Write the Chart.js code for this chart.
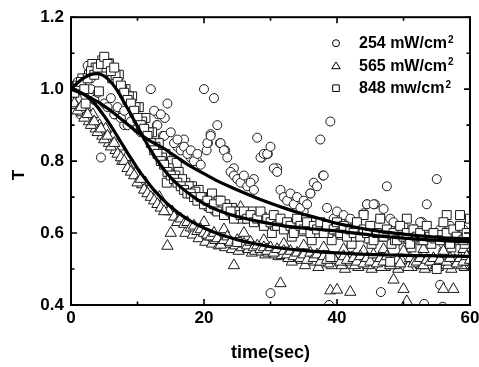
<!DOCTYPE html>
<html><head><meta charset="utf-8">
<script src="https://cdn.jsdelivr.net/npm/chart.js@4/dist/chart.umd.min.js"></script>
<style>html,body{margin:0;padding:0;overflow:hidden;background:#fff;width:479px;height:367px}</style>
</head><body>
<canvas id="c" width="490" height="367" style="display:block"></canvas>
<script>
// sampling times (s)
const times = [0,0.5,1,1.5,2,2.5,3,3.5,4,4.5,5,5.5,6,6.5,7,7.5,8,8.5,9,9.5,10,10.5,11,11.5,12,12.5,13,13.5,14,14.5,15,15.5,16,16.5,17,17.5,18,18.5,19,19.5,20,20.5,21,21.5,22,22.5,23,23.5,24,24.5,25,25.5,26,26.5,27,27.5,28,28.5,29,29.5,30,30.5,31,31.5,32,32.5,33,33.5,34,34.5,35,35.5,36,36.5,37,37.5,38,38.5,39,39.5,40,40.5,41,41.5,42,42.5,43,43.5,44,44.5,45,45.5,46,46.5,47,47.5,48,48.5,49,49.5,50,50.5,51,51.5,52,52.5,53,53.5,54,54.5,55,55.5,56,56.5,57,57.5,58,58.5,59,59.5,60];

// 254 mW/cm2 (circles)
const t254 = [1.0,0.99,1.02,0.94,0.98,1.065,1.0,0.97,0.99,0.81,0.96,0.95,0.975,0.93,0.95,0.92,0.94,0.9,0.91,0.93,0.89,0.9,0.92,0.87,1.0,0.94,0.9,0.93,0.87,0.96,0.88,0.85,0.86,0.83,0.84,0.82,0.83,0.8,0.82,0.79,1.0,0.85,0.87,0.975,0.9,0.85,0.83,0.81,0.77,0.76,0.75,0.74,0.76,0.73,0.74,0.72,0.865,0.81,0.82,0.82,0.84,0.78,0.77,0.72,0.7,0.69,0.71,0.68,0.7,0.67,0.69,0.68,0.71,0.74,0.73,0.86,0.76,0.67,0.91,0.64,0.66,0.63,0.65,0.62,0.64,0.61,0.63,0.6,0.655,0.68,0.62,0.68,0.6,0.64,0.667,0.73,0.61,0.63,0.6,0.59,0.62,0.6,0.58,0.61,0.6,0.63,0.59,0.68,0.6,0.58,0.75,0.61,0.57,0.6,0.62,0.59,0.58,0.6,0.61,0.59,0.6];
const x254extra = [30,38.8,46.6,53.1,55.5,55.9,21,20.6,22.4,23.2,20.4,29.6,28.7,31,37.9,36,14.1,13.1,12.9,13.8,0.9,1.4,6.6,16,18,19,44.5,45.7,17,26,33,42,50,58,10.5,8,52.8,42,50,56,60,24.5,27.5,35,39.5,48,3];
const y254extra = [0.433,0.40,0.436,0.403,0.456,0.395,0.875,0.85,0.85,0.83,0.83,0.82,0.81,0.78,0.76,0.71,0.92,0.93,0.9,0.87,1.017,0.93,0.93,0.84,0.81,0.8,0.68,0.68,0.86,0.74,0.69,0.63,0.61,0.6,0.88,0.9,0.63,0.56,0.56,0.55,0.56,0.78,0.75,0.66,0.62,0.64,1.03];

// 565 mW/cm2 (triangles)
const t565 = [0.97,0.96,0.94,0.95,0.92,0.93,0.9,0.91,0.88,0.89,0.86,0.87,0.84,0.85,0.82,0.81,0.8,0.78,0.77,0.76,0.74,0.75,0.72,0.71,0.7,0.69,0.68,0.67,0.66,0.564,0.6,0.645,0.63,0.64,0.625,0.63,0.615,0.62,0.605,0.61,0.6,0.595,0.59,0.6,0.585,0.567,0.58,0.59,0.575,0.51,0.58,0.672,0.57,0.565,0.575,0.56,0.565,0.555,0.56,0.55,0.56,0.545,0.555,0.46,0.55,0.54,0.55,0.535,0.545,0.53,0.54,0.525,0.545,0.53,0.54,0.52,0.535,0.525,0.44,0.53,0.442,0.52,0.535,0.525,0.436,0.53,0.52,0.535,0.515,0.53,0.52,0.54,0.515,0.53,0.52,0.535,0.51,0.47,0.525,0.515,0.444,0.41,0.53,0.515,0.52,0.53,0.51,0.525,0.52,0.53,0.51,0.525,0.444,0.52,0.53,0.444,0.515,0.53,0.52,0.535,0.525];
const x565extra = [0.2,1.2,2.2,3.3,4.3,5.2,6.3,7.2,8.3,9.2,10.3,11.2,13.3,15.2,17.2,18.3,19.2,20.2,21.2,22.2,23.2,24.2,25.2,27.2,29.2,31.2,33.2,35.2,37.2,39.2,41.2,43.2,45.2,47.2,49.2,51.2,53.2,55.2,57.2,59.2,20,23,26,29,32,35,38,41,44,47,50,53,56,59,16,
  0.7,1.7,2.7,3.7,4.7,5.7,6.7,7.7,8.7,9.7,10.7,11.7,12.7,13.7,14.7,
  20.7,21.7,22.7,23.7,24.7,25.7,26.7,27.7,28.7,29.7,30.7,31.7,32.7,33.7,34.7,35.7,36.7,37.7,38.7,39.7,40.7,41.7,42.7,43.7,44.7,45.7,46.7,47.7,48.7,49.7,50.7,51.7,52.7,53.7,54.7,55.7,56.7,57.7,58.7,59.7];
const y565extra = [0.99,0.97,0.95,0.93,0.9,0.89,0.87,0.84,0.81,0.79,0.76,0.74,0.7,0.66,0.6,0.595,0.585,0.575,0.57,0.565,0.56,0.555,0.55,0.545,0.54,0.535,0.52,0.51,0.505,0.51,0.5,0.505,0.5,0.505,0.5,0.505,0.5,0.505,0.5,0.505,0.63,0.61,0.6,0.58,0.57,0.565,0.56,0.555,0.55,0.555,0.55,0.555,0.55,0.555,0.63,
  0.955,0.935,0.91,0.89,0.87,0.85,0.83,0.8,0.785,0.765,0.735,0.72,0.7,0.68,0.66,
  0.59,0.58,0.575,0.57,0.565,0.56,0.555,0.55,0.548,0.545,0.54,0.538,0.53,0.54,0.525,0.535,0.52,0.53,0.515,0.525,0.51,0.52,0.51,0.525,0.51,0.52,0.505,0.52,0.51,0.525,0.505,0.52,0.51,0.52,0.505,0.52,0.51,0.525,0.51,0.52];

// 848 mw/cm2 (squares)
const t848 = [1.0,0.99,1.01,1.02,1.0,1.03,1.05,1.04,1.06,1.07,1.09,1.07,1.05,1.06,1.02,1.01,0.99,0.97,0.96,0.94,0.92,0.9,0.89,0.87,0.85,0.83,0.82,0.8,0.79,0.77,0.76,0.75,0.74,0.73,0.72,0.71,0.71,0.7,0.69,0.7,0.68,0.69,0.67,0.68,0.66,0.69,0.65,0.67,0.66,0.64,0.575,0.65,0.66,0.64,0.65,0.63,0.64,0.66,0.62,0.64,0.63,0.65,0.62,0.64,0.61,0.63,0.62,0.6,0.64,0.62,0.61,0.63,0.6,0.62,0.61,0.63,0.6,0.62,0.533,0.61,0.63,0.6,0.62,0.59,0.61,0.6,0.63,0.59,0.61,0.6,0.62,0.58,0.6,0.64,0.59,0.61,0.52,0.6,0.58,0.62,0.59,0.6,0.57,0.61,0.59,0.6,0.58,0.62,0.59,0.6,0.5,0.58,0.63,0.6,0.57,0.61,0.59,0.62,0.58,0.6,0.64];
const x848extra = [3.2,4.2,2.2,5.7,6.2,7.2,8.2,9.2,10.2,11.2,12.2,13.2,14.2,15.2,16.2,17.2,18.2,19.2,20.2,21.2,22.2,23.2,24.2,27.2,30.2,33.2,36.2,39.2,42.2,45.2,48.2,51.2,54.2,57.2,59.2,44,50.5,56.5,58.5,14.4,15.9,
  0.7,1.7,2.7,3.7,4.7,5.2,6.7,7.7,8.7,9.7,10.7,11.7,12.7,13.7,14.7,15.7,16.7,17.7,18.7,19.7,
  20.7,21.7,22.7,23.7,24.7,25.7,26.7,27.7,28.7,29.7,30.7,31.7,32.7,33.7,34.7,35.7,36.7,37.7,38.7,39.7,40.7,41.7,42.7,43.7,44.7,45.7,46.7,47.7,48.7,49.7,50.7,51.7,52.7,53.7,54.7,55.7,56.7,57.7,58.7,59.7];
const y848extra = [1.07,0.994,0.96,1.072,1.03,1.04,1.0,0.98,0.95,0.92,0.88,0.85,0.82,0.8,0.77,0.74,0.73,0.72,0.7,0.71,0.69,0.68,0.67,0.66,0.6,0.59,0.58,0.58,0.57,0.57,0.57,0.56,0.57,0.56,0.57,0.65,0.64,0.65,0.65,0.74,0.795,
  1.0,1.03,1.04,1.06,1.08,1.06,1.04,1.0,0.98,0.95,0.91,0.88,0.84,0.81,0.78,0.76,0.75,0.73,0.715,0.7,
  0.675,0.665,0.67,0.655,0.66,0.64,0.65,0.635,0.645,0.63,0.62,0.63,0.615,0.625,0.605,0.62,0.6,0.615,0.6,0.61,0.595,0.61,0.59,0.6,0.585,0.6,0.59,0.6,0.58,0.6,0.585,0.595,0.58,0.6,0.585,0.595,0.58,0.6,0.585,0.59];

// fitted curves
const fitX = [0,1,2,3,4,5,6,7,8,9,10,11,12,13,14,15,16,17,18,19,20,22,24,26,28,30,32,34,36,38,40,42,44,46,48,50,52,54,56,58,60];
const fit254 = [1.0,0.993,0.985,0.975,0.965,0.953,0.94,0.925,0.91,0.895,0.88,0.867,0.855,0.845,0.835,0.822,0.81,0.797,0.785,0.775,0.765,0.745,0.728,0.712,0.697,0.683,0.67,0.658,0.647,0.637,0.627,0.619,0.612,0.606,0.601,0.597,0.593,0.59,0.587,0.585,0.583];
const fit565 = [1.0,0.995,0.985,0.97,0.95,0.925,0.898,0.868,0.838,0.808,0.78,0.754,0.73,0.709,0.69,0.673,0.658,0.645,0.633,0.623,0.614,0.599,0.587,0.577,0.569,0.562,0.557,0.553,0.55,0.547,0.545,0.543,0.541,0.54,0.539,0.538,0.537,0.537,0.536,0.536,0.535];
const fit848 = [1.0,1.018,1.032,1.041,1.043,1.036,1.02,0.995,0.963,0.93,0.896,0.862,0.83,0.801,0.776,0.754,0.736,0.72,0.706,0.693,0.682,0.664,0.651,0.641,0.633,0.626,0.62,0.616,0.612,0.609,0.606,0.601,0.597,0.592,0.589,0.586,0.583,0.581,0.579,0.577,0.576];

// axes
const xMajor = [0,20,40,60];
const xMinor = [10,30,50];
const yMajor = [0.4,0.6,0.8,1.0,1.2];
const yMinor = [0.5,0.7,0.9,1.1];
const seriesLabels = ['254 mW/cm','565 mW/cm','848 mw/cm'];
const seriesStyles = ['circle','triangle','rect'];
const xTitle = 'time(sec)';
const yTitle = 'T';

const FONT = "'Liberation Sans', Arial, Helvetica, sans-serif";

function pts(xs, ys){ return xs.map((x,i)=>({x:x, y:ys[i]})); }
function scatterDs(label, data, style, r, order){
  return {type:'scatter', label, data, pointStyle:style, pointRadius:r, pointHoverRadius:r,
    pointBackgroundColor:'#fff', pointBorderColor:'#1a1a1a', pointBorderWidth:1, showLine:false, order};
}
function fitDs(label, ys){
  return {type:'line', label, data: pts(fitX, ys), borderColor:'#000', borderWidth:3.2,
    pointRadius:0, fill:false, cubicInterpolationMode:'monotone', order:0};
}

const frameAndLegend = {
  id:'frameAndLegend',
  afterDraw(chart){
    const ctx = chart.ctx, xs = chart.scales.x, ys = chart.scales.y;
    const L = xs.getPixelForValue(0), R = xs.getPixelForValue(60);
    const B = ys.getPixelForValue(0.4), T = ys.getPixelForValue(1.2);
    ctx.save();
    ctx.strokeStyle = '#000';
    ctx.lineWidth = 2;
    ctx.strokeRect(L, T, R-L, B-T);
    ctx.lineWidth = 1.6;
    ctx.beginPath();
    const tick = (vals, len, isX) => vals.forEach(v => {
      if (isX) {
        const p = xs.getPixelForValue(v);
        ctx.moveTo(p, B); ctx.lineTo(p, B-len);
        ctx.moveTo(p, T); ctx.lineTo(p, T+len);
      } else {
        const p = ys.getPixelForValue(v);
        ctx.moveTo(L, p); ctx.lineTo(L+len, p);
        ctx.moveTo(R, p); ctx.lineTo(R-len, p);
      }
    });
    tick(xMajor, 6, true); tick(xMinor, 3.5, true);
    tick(yMajor, 6, false); tick(yMinor, 3.5, false);
    ctx.stroke();

    // y title
    ctx.fillStyle = '#000';
    ctx.font = 'bold 17px ' + FONT;
    ctx.textAlign = 'center'; ctx.textBaseline = 'middle';
    ctx.translate(19, (T+B)/2 + 14);
    ctx.rotate(-Math.PI/2);
    ctx.fillText(yTitle, 0, 0);
    ctx.restore();

    // legend
    ctx.save();
    const mx = R - 134, tx = R - 111;
    const rows = [T+26, T+48.5, T+71];
    seriesLabels.forEach((lab, i) => {
      const y = rows[i];
      ctx.fillStyle = '#fff'; ctx.strokeStyle = '#000'; ctx.lineWidth = 1;
      ctx.beginPath();
      if (seriesStyles[i] === 'circle') ctx.arc(mx, y, 3.5, 0, Math.PI*2);
      else if (seriesStyles[i] === 'triangle') { ctx.moveTo(mx, y-3.8); ctx.lineTo(mx+4.2, y+3); ctx.lineTo(mx-4.2, y+3); ctx.closePath(); }
      else ctx.rect(mx-3.3, y-3.3, 6.6, 6.6);
      ctx.fill(); ctx.stroke();
      ctx.fillStyle = '#000';
      ctx.font = 'bold 16px ' + FONT;
      ctx.textAlign = 'left'; ctx.textBaseline = 'middle';
      ctx.fillText(lab, tx, y + 0.5);
      const w = ctx.measureText(lab).width;
      ctx.font = 'bold 10px ' + FONT;
      ctx.textBaseline = 'alphabetic';
      ctx.fillText('2', tx + w + 1, y - 0.5);
    });
    ctx.restore();
  }
};

new Chart(document.getElementById('c'), {
  data: {
    datasets: [
      fitDs('fit 254', fit254),
      fitDs('fit 565', fit565),
      fitDs('fit 848', fit848),
      scatterDs(seriesLabels[2], pts(times, t848), 'rect', 6.3, 1),
      scatterDs(seriesLabels[2]+' b', pts(x848extra, y848extra), 'rect', 6.3, 1),
      scatterDs(seriesLabels[1], pts(times, t565), 'triangle', 6.5, 2),
      scatterDs(seriesLabels[1]+' b', pts(x565extra, y565extra), 'triangle', 6.5, 2),
      scatterDs(seriesLabels[0], pts(times, t254), 'circle', 4.5, 3),
      scatterDs(seriesLabels[0]+' b', pts(x254extra, y254extra), 'circle', 4.5, 3)
    ]
  },
  options: {
    responsive:false, animation:false, events:[],
    layout:{padding:{top:17, right:20, left:0, bottom:0}},
    plugins:{legend:{display:false}, tooltip:{enabled:false}},
    scales:{
      x:{type:'linear', min:0, max:60,
        afterFit(s){ s.height = 62; },
        grid:{display:false, drawTicks:false}, border:{display:false},
        ticks:{stepSize:20, padding:3, color:'#000', font:{family:FONT, size:17, weight:'bold'}, maxRotation:0,
          callback:(v)=> xMajor.includes(v) ? String(v) : ''},
        title:{display:true, text:xTitle, color:'#000', font:{family:FONT, size:18, weight:'bold'}, padding:{top:0,bottom:3}}
      },
      y:{type:'linear', min:0.4, max:1.2,
        afterFit(s){ s.width = 71; },
        grid:{display:false, drawTicks:false}, border:{display:false},
        ticks:{stepSize:0.2, padding:7, color:'#000', font:{family:FONT, size:17, weight:'bold'},
          callback:(v)=> Number(v).toFixed(1)}
      }
    }
  },
  plugins:[frameAndLegend]
});
</script>
</body></html>
